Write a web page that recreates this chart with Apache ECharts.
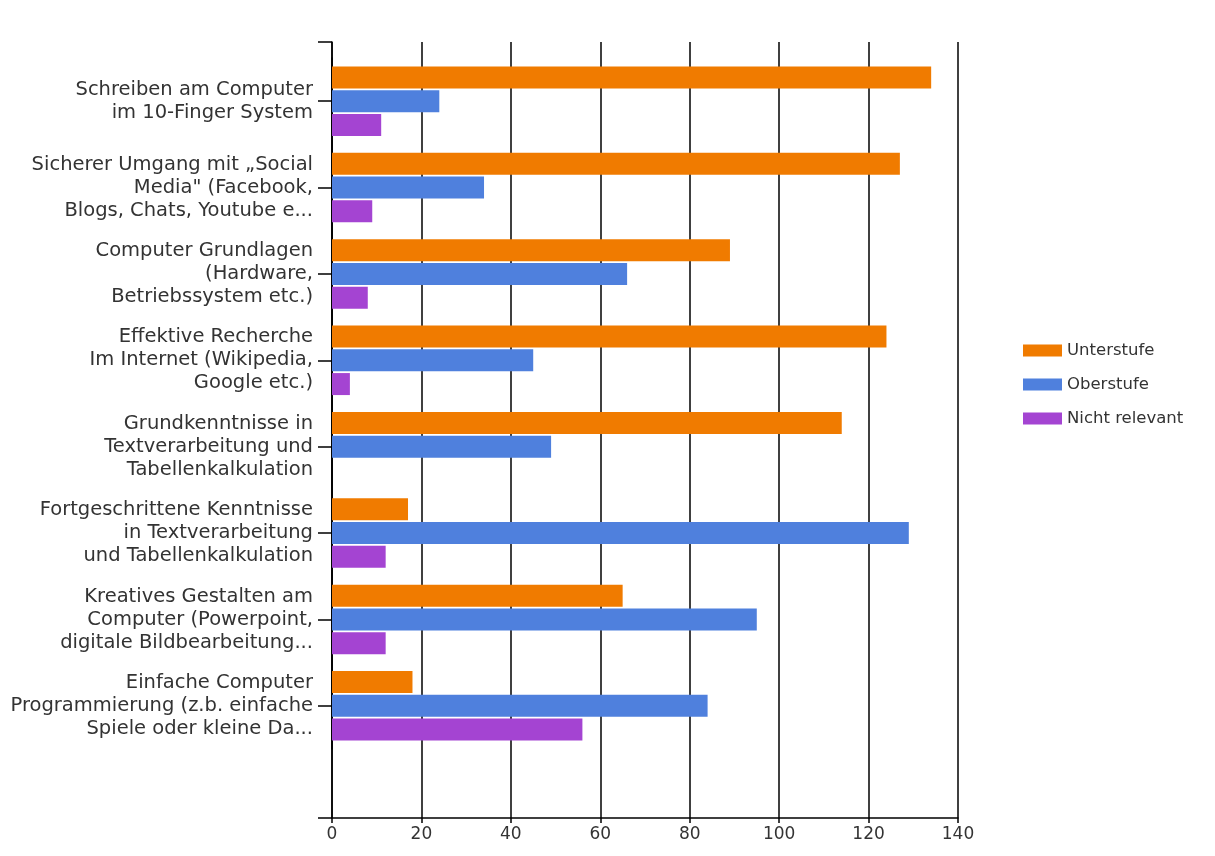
<!DOCTYPE html>
<html>
<head>
<meta charset="utf-8">
<script src="https://cdn.jsdelivr.net/npm/echarts@6/dist/echarts.min.js"></script>
<style>
html,body{margin:0;padding:0;background:#fff;}
#chart{width:1215px;height:856px;}
</style>
</head>
<body>
<div id="chart"></div>
<script>
const categories = [
  "Schreiben am Computer\nim 10-Finger System",
  "Sicherer Umgang mit „Social\nMedia\" (Facebook,\nBlogs, Chats, Youtube e...",
  "Computer Grundlagen\n(Hardware,\nBetriebssystem etc.)",
  "Effektive Recherche\nIm Internet (Wikipedia,\nGoogle etc.)",
  "Grundkenntnisse in\nTextverarbeitung und\nTabellenkalkulation",
  "Fortgeschrittene Kenntnisse\nin Textverarbeitung\nund Tabellenkalkulation",
  "Kreatives Gestalten am\nComputer (Powerpoint,\ndigitale Bildbearbeitung...",
  "Einfache Computer\nProgrammierung (z.b. einfache\nSpiele oder kleine Da..."
];
const seriesNames = ["Unterstufe", "Oberstufe", "Nicht relevant"];
const unterstufe = [134, 127, 89, 124, 114, 17, 65, 18];
const oberstufe = [24, 34, 66, 45, 49, 129, 95, 84];
const nichtRelevant = [11, 9, 8, 4, 0, 12, 12, 56];
const xTicks = [0, 20, 40, 60, 80, 100, 120, 140];

const colors = ["#f07b00", "#4f80dd", "#a444d2"];
const font = "DejaVu Sans";
const chart = echarts.init(document.getElementById('chart'));
const vals = [unterstufe, oberstufe, nichtRelevant];
chart.setOption({
  animation: false,
  textStyle: { fontFamily: font },
  legend: {
    orient: 'vertical', left: 1018, top: 337,
    itemWidth: 39, itemHeight: 12, itemGap: 17,
    textStyle: { fontFamily: font, fontSize: 16.5, lineHeight: 14, color: '#333' },
    icon: 'rect',
    data: seriesNames
  },
  grid: [
    { left: 332, right: 257, top: 58, height: 691 },
    { left: 332, right: 257, top: 42, bottom: 38 }
  ],
  xAxis: [
    { gridIndex: 0, type: 'value', min: xTicks[0], max: xTicks[xTicks.length-1], interval: 20, show: false },
    { gridIndex: 1, type: 'value', min: xTicks[0], max: xTicks[xTicks.length-1], interval: 20,
      axisLine: { show: true, lineStyle: { color: '#000', width: 1.5 } },
      axisTick: { show: true, length: 5, lineStyle: { color: '#000', width: 1.5 } },
      splitLine: { show: true, lineStyle: { color: '#000', width: 1.5 } },
      axisLabel: { fontFamily: font, fontSize: 17, color: '#333', margin: 8 } }
  ],
  yAxis: [
    { gridIndex: 0, type: 'category', data: categories, inverse: true,
      axisLine: { show: true, lineStyle: { color: '#000', width: 1.5 } },
      axisTick: { show: true, alignWithLabel: true, length: 14, lineStyle: { color: '#000', width: 1.5 } },
      axisLabel: { fontFamily: font, fontSize: 19.5, lineHeight: 23, color: '#333', margin: 19, align: 'right' } },
    { gridIndex: 1, type: 'value', min: 0, max: 1, interval: 1,
      axisLine: { show: true, onZero: false, lineStyle: { color: '#000', width: 1.5 } },
      axisTick: { show: true, length: 14, lineStyle: { color: '#000', width: 1.5 } },
      axisLabel: { show: false }, splitLine: { show: false } }
  ],
  series: seriesNames.map((n, i) => ({
    name: n, type: 'bar', xAxisIndex: 0, yAxisIndex: 0,
    data: vals[i], barWidth: 22, barGap: '8%',
    itemStyle: { color: colors[i] }
  }))
});
</script>
</body>
</html>
